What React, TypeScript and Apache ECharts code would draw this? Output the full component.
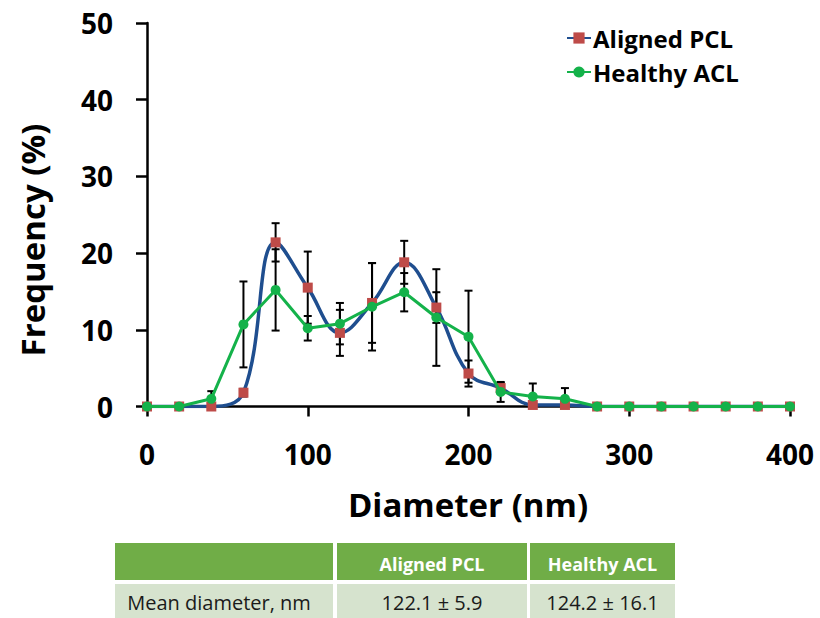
import React, { useEffect, useRef } from "react";
import * as echarts from "echarts";

const diameters = [0, 20, 40, 60, 80, 100, 120, 140, 160, 180, 200, 220, 240, 260, 280, 300, 320, 340, 360, 380, 400];
const alignedPCL = [0, 0, 0, 1.8, 21.4, 15.5, 9.6, 13.5, 18.8, 12.9, 4.3, 2.4, 0.2, 0.2, 0, 0, 0, 0, 0, 0, 0];
const alignedPCLErr = [0, 0, 0, 0.5, 2.5, 4.7, 3.0, 5.2, 2.8, 2.0, 1.7, 0.7, 0.3, 0.3, 0, 0, 0, 0, 0, 0, 0];
const healthyACL = [0, 0, 1.0, 10.7, 15.2, 10.2, 10.8, 13.0, 14.9, 11.6, 9.1, 1.9, 1.3, 1.0, 0, 0, 0, 0, 0, 0, 0];
const healthyACLErr = [0, 0, 1.0, 5.6, 5.3, 1.6, 2.7, 5.7, 2.5, 6.3, 6.0, 1.3, 1.7, 1.4, 0, 0, 0, 0, 0, 0, 0];

const tableHeader = ["", "Aligned PCL", "Healthy ACL"];
const tableRow = ["Mean diameter, nm", "122.1 ± 5.9", "124.2 ± 16.1"];

const FONT = "'Open Sans', sans-serif";

function errData(vals: number[], errs: number[]) {
  const out: number[][] = [];
  vals.forEach((v, i) => {
    if (errs[i] > 0) out.push([diameters[i], Math.max(0, v - errs[i]), v + errs[i]]);
  });
  return out;
}

const renderErr = (params: any, api: any) => {
  const x = api.value(0);
  const lo = api.coord([x, api.value(1)]);
  const hi = api.coord([x, api.value(2)]);
  const w = 4;
  const st = { stroke: "#000", lineWidth: 2 };
  return {
    type: "group",
    children: [
      { type: "line", shape: { x1: lo[0], y1: lo[1], x2: hi[0], y2: hi[1] }, style: st },
      { type: "line", shape: { x1: lo[0] - w, y1: lo[1], x2: lo[0] + w, y2: lo[1] }, style: st },
      { type: "line", shape: { x1: hi[0] - w, y1: hi[1], x2: hi[0] + w, y2: hi[1] }, style: st },
    ],
  };
};

export default function App() {
  const ref = useRef<HTMLDivElement>(null);
  useEffect(() => {
    if (!ref.current) return;
    const chart = echarts.init(ref.current, null, { renderer: "svg" });

    const cols = [
      { x: 115, w: 218 },
      { x: 337, w: 190 },
      { x: 530, w: 145 },
    ];
    const tableGraphics: any[] = [];
    cols.forEach((c, i) => {
      tableGraphics.push({
        type: "rect",
        shape: { x: c.x, y: 543, width: c.w, height: 37 },
        style: { fill: "#70AD47" },
      });
      tableGraphics.push({
        type: "rect",
        shape: { x: c.x, y: 584, width: c.w, height: 37 },
        style: { fill: "#D6E3CE" },
      });
      if (tableHeader[i]) {
        tableGraphics.push({
          type: "text",
          x: c.x + c.w / 2,
          y: 564,
          style: {
            text: tableHeader[i],
            fill: "#fff",
            font: `bold 18px ${FONT}`,
            textAlign: "center",
            textVerticalAlign: "middle",
          },
        });
      }
      tableGraphics.push({
        type: "text",
        x: i === 0 ? 219 : c.x + c.w / 2,
        y: 602,
        style: {
          text: tableRow[i],
          fill: "#1a1a1a",
          font: `20px ${FONT}`,
          textAlign: "center",
          textVerticalAlign: "middle",
        },
      });
    });

    chart.setOption({
      animation: false,
      backgroundColor: "#fff",
      grid: { left: 147, right: 30, top: 23, bottom: 211.5 },
      legend: {
        orient: "vertical",
        left: 566,
        top: 26,
        padding: 0,
        itemWidth: 24,
        itemHeight: 14,
        itemGap: 10,
        data: ["Aligned PCL", "Healthy ACL"],
        textStyle: { fontFamily: FONT, fontWeight: "bold", fontSize: 24, color: "#000", lineHeight: 24, padding: [0, 0, 0, -3] },
      },
      xAxis: {
        type: "value",
        min: 0,
        max: 400,
        interval: 100,
        splitLine: { show: false },
        axisLine: { lineStyle: { color: "#000", width: 2.5 } },
        axisTick: { inside: false, length: 10, lineStyle: { color: "#000", width: 2.5 } },
        axisLabel: { margin: 33, fontFamily: FONT, fontWeight: "bold", fontSize: 28, color: "#000" },
      },
      yAxis: {
        type: "value",
        min: 0,
        max: 50,
        interval: 10,
        splitLine: { show: false },
        axisLine: { show: true, lineStyle: { color: "#000", width: 2.5 } },
        axisTick: { show: true, inside: false, length: 11, lineStyle: { color: "#000", width: 2.5 } },
        axisLabel: { margin: 34, fontFamily: FONT, fontWeight: "bold", fontSize: 28, color: "#000" },
      },
      graphic: [
        {
          type: "text",
          x: 32,
          y: 240,
          rotation: Math.PI / 2,
          style: {
            text: "Frequency (%)",
            fill: "#000",
            font: `bold 33px ${FONT}`,
            textAlign: "center",
            textVerticalAlign: "middle",
          },
        },
        {
          type: "text",
          x: 468,
          y: 504,
          style: {
            text: "Diameter (nm)",
            fill: "#000",
            font: `bold 33px ${FONT}`,
            textAlign: "center",
            textVerticalAlign: "middle",
          },
        },
        ...tableGraphics,
      ],
      series: [
        {
          name: "errPCL",
          type: "custom",
          renderItem: renderErr,
          data: errData(alignedPCL, alignedPCLErr),
          encode: { x: 0, y: [1, 2] },
          z: 1,
          silent: true,
        },
        {
          name: "errACL",
          type: "custom",
          renderItem: renderErr,
          data: errData(healthyACL, healthyACLErr),
          encode: { x: 0, y: [1, 2] },
          z: 1,
          silent: true,
        },
        {
          name: "Aligned PCL",
          type: "line",
          smooth: 0.4,
          data: diameters.map((d, i) => [d, alignedPCL[i]]),
          symbol: "rect",
          symbolSize: 10,
          showAllSymbol: true,
          lineStyle: { color: "#1F4E8F", width: 3.5 },
          itemStyle: { color: "#BE4B48" },
          z: 3,
        },
        {
          name: "Healthy ACL",
          type: "line",
          data: diameters.map((d, i) => [d, healthyACL[i]]),
          symbol: "circle",
          symbolSize: 10,
          showAllSymbol: true,
          lineStyle: { color: "#14B24A", width: 3 },
          itemStyle: { color: "#14B24A" },
          z: 4,
        },
      ],
    });
    return () => chart.dispose();
  }, []);
  return (
    <div
      ref={ref}
      style={{ position: "absolute", left: 0, top: 0, width: 820, height: 618, background: "#fff" }}
    />
  );
}
